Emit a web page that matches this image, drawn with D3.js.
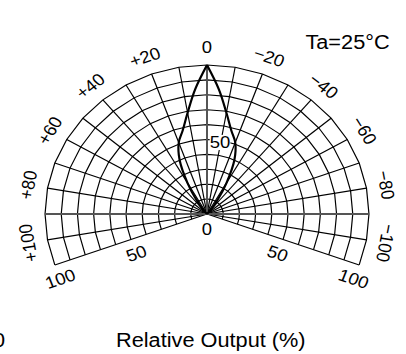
<!DOCTYPE html>
<html><head><meta charset="utf-8">
<script src="https://cdn.jsdelivr.net/npm/d3@7"></script>
<style>
body{margin:0;background:#fff;}
svg{display:block;}
text{font-family:"Liberation Sans",Arial,Helvetica,sans-serif;fill:#000;}
</style>
</head><body>
<script>
// ---- data ----
const spokeAngles = d3.range(-110, 111, 10);          // degrees, + is left
const ringValues = d3.range(10, 101, 10);              // relative output %
const angleTickValues = [100, 80, 60, 40, 20, 0, -20, -40, -60, -80, -100];
const angleTickLabels = ["+100", "+80", "+60", "+40", "+20", "0", "\u221220", "\u221240", "\u221260", "\u221280", "\u2212100"];
const radialTickValues = [50, 100];
const radialTickLabels = ["50", "100"];
const lobeAngles = [0, 5, 10, 15, 20, 25, 30, 35, 40, 45];
const lobeValues = [100, 84, 69, 58, 51, 40, 24, 11, 4, 0];
const titleText = "Ta=25\u00B0C";
const axisTitleText = "Relative Output (%)";

// ---- layout ----
const W = 406, H = 354;
const cx = 207, cy = 214, R = 149, sx = 1.087;
const fs = 17;

const svg = d3.select("body").append("svg").attr("width", W).attr("height", H);
svg.append("rect").attr("width", W).attr("height", H).attr("fill", "#fff");

const r = d3.scaleLinear().domain([0, 100]).range([0, R]);
const a = d3.scaleLinear().domain([-180, 180]).range([Math.PI, -Math.PI]);
const pt = (t, v) => [r(v) * Math.sin(a(t)), -r(v) * Math.cos(a(t))];

const g = svg.append("g").attr("transform", `translate(${cx},${cy}) scale(${sx},1)`);

// rings (polygonal)
const ringLine = d3.lineRadial().angle(d => a(d)).curve(d3.curveLinear);
g.append("g").selectAll("path").data(ringValues).join("path")
  .attr("d", v => ringLine.radius(r(v))(spokeAngles))
  .attr("fill", "none").attr("stroke", "#000").attr("stroke-width", 1.1);

// spokes
g.append("g").selectAll("line").data(spokeAngles).join("line")
  .attr("x1", 0).attr("y1", 0)
  .attr("x2", d => pt(d, 100)[0]).attr("y2", d => pt(d, 100)[1])
  .attr("stroke", "#000").attr("stroke-width", 1.1);

// main axes (grey, heavier)
g.append("line").attr("x1", 0).attr("y1", 0).attr("x2", pt(0, 100)[0]).attr("y2", pt(0, 100)[1])
  .attr("stroke", "#555").attr("stroke-width", 1.8);
g.append("line").attr("x1", pt(90, 100)[0]).attr("y1", pt(90, 100)[1]).attr("x2", pt(-90, 100)[0]).attr("y2", pt(-90, 100)[1])
  .attr("stroke", "#555").attr("stroke-width", 1.8);

// lobe (two halves, sharp tip)
const lobeLine = d3.line().curve(d3.curveCatmullRom.alpha(0.5));
[1, -1].forEach(s => {
  const pts = lobeAngles.map((t, i) => pt(s * t, lobeValues[i]));
  pts.push([0, 0]);
  g.append("path").attr("d", lobeLine(pts))
    .attr("fill", "none").attr("stroke", "#000").attr("stroke-width", 2);
});

// angle labels
angleTickValues.forEach((t, i) => {
  const p = pt(t, 112);
  g.append("text").attr("transform", `translate(${p[0]},${p[1]}) rotate(${-t})`)
    .attr("text-anchor", "middle").attr("dominant-baseline", "central")
    .attr("font-size", fs).text(angleTickLabels[i]);
});

// radial labels along the bottom edges
[110, -110].forEach(t => {
  const n = t > 0 ? t + 90 : t - 90;
  const rot = t > 0 ? 90 - t : -90 - t;
  radialTickValues.forEach((v, i) => {
    const b = pt(t, v);
    const u = [Math.sin(a(n)), -Math.cos(a(n))];
    const off = 15;
    g.append("text").attr("transform", `translate(${b[0] + u[0] * off},${b[1] + u[1] * off}) rotate(${rot})`)
      .attr("text-anchor", "middle").attr("dominant-baseline", "central")
      .attr("font-size", fs).text(radialTickLabels[i]);
  });
});
// zero at centre
g.append("text").attr("x", 0).attr("y", 15).attr("text-anchor", "middle").attr("dominant-baseline", "central")
  .attr("font-size", fs).text("0");

// 50 on the vertical axis with white background
const t50 = g.append("text").attr("x", 2.5).attr("y", -r(50) + 3)
  .attr("text-anchor", "start").attr("dominant-baseline", "central")
  .attr("font-size", fs).text("50");
const bb = t50.node().getBBox();
g.insert("rect", () => t50.node()).attr("x", bb.x).attr("y", bb.y + 2).attr("width", bb.width).attr("height", bb.height - 4).attr("fill", "#fff");

// title and axis title
svg.append("text").attr("transform", `translate(347.5,48.5) scale(${sx},1)`)
  .attr("text-anchor", "middle").attr("font-size", 20).text(titleText);
svg.append("text").attr("transform", `translate(210.8,346.5) scale(${sx},1)`)
  .attr("text-anchor", "middle").attr("font-size", 20).text(axisTitleText);
svg.append("text").attr("transform", `translate(5,346.5) scale(${sx},1)`)
  .attr("text-anchor", "end").attr("font-size", 20).text("0");
</script>
</body></html>
